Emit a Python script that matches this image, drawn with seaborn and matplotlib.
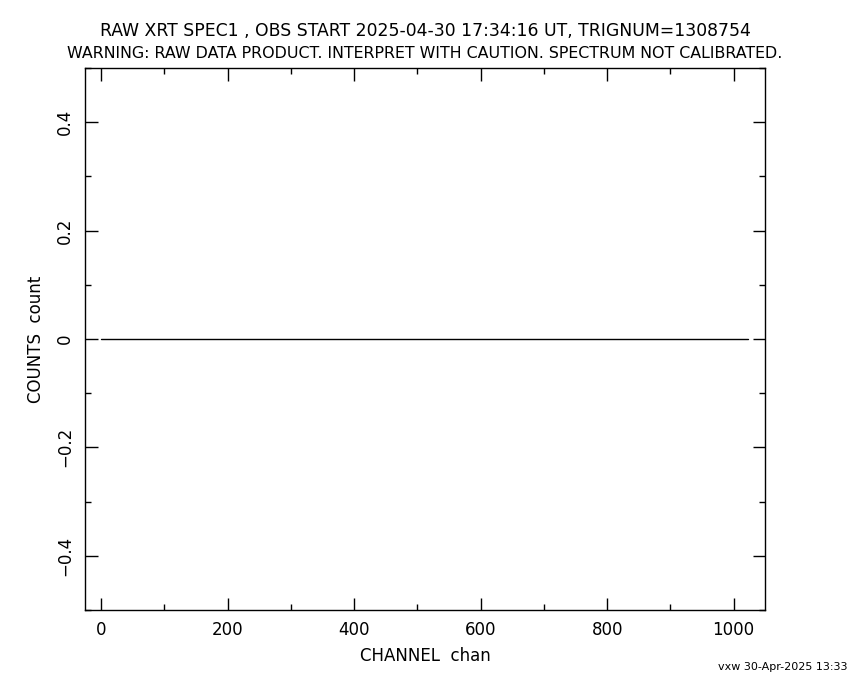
import numpy as np
import pandas as pd
import matplotlib
matplotlib.use("Agg")
import matplotlib.pyplot as plt
import seaborn as sns
from matplotlib.ticker import MultipleLocator

# raw spectrum: 1024 channels, every channel reads zero counts
channels = np.arange(1024)
counts = [0] * 1024

title1 = "RAW XRT SPEC1 , OBS START 2025-04-30 17:34:16 UT, TRIGNUM=1308754"
title2 = "WARNING: RAW DATA PRODUCT. INTERPRET WITH CAUTION. SPECTRUM NOT CALIBRATED."
xlabel = "CHANNEL  chan"
ylabel = "COUNTS  count"
footer = "vxw 30-Apr-2025 13:33"

sns.set_style("ticks")
plt.rcParams['font.family'] = ['DejaVu Sans']
plt.rcParams['text.color'] = 'black'
plt.rcParams['axes.labelcolor'] = 'black'

spec = pd.DataFrame({"chan": channels, "count": counts})

fig = plt.figure(figsize=(8.5, 6.8), dpi=100)
ax = fig.add_axes([0.1, 0.103, 0.8, 0.797])
sns.lineplot(data=spec, x="chan", y="count", ax=ax, color="black",
             linewidth=1.0, estimator=None)

ax.set_xlim(-25.6, 1049.6)
ax.set_ylim(-0.5, 0.5)
ax.xaxis.set_major_locator(MultipleLocator(200))
ax.xaxis.set_minor_locator(MultipleLocator(100))
ax.yaxis.set_major_locator(MultipleLocator(0.2))
ax.yaxis.set_minor_locator(MultipleLocator(0.1))
ax.tick_params(which="both", direction="in", top=True, right=True,
               width=1.0, colors="black", labelsize=12)
ax.tick_params(which="major", length=9)
ax.tick_params(which="minor", length=4.5)
ax.tick_params(axis="x", pad=8)
ax.tick_params(axis="y", pad=8)
for lab in ax.get_yticklabels():
    lab.set_rotation(90)
    lab.set_va("center")
ax.yaxis.set_major_formatter(plt.FuncFormatter(lambda v, p: "0" if abs(v) < 1e-9 else ("%.1f" % v).replace("-", "\u2212")))
for s in ax.spines.values():
    s.set_linewidth(1.0)
    s.set_color("black")

ax.set_xlabel(xlabel, fontsize=12, labelpad=6)
ax.set_ylabel(ylabel, fontsize=12, labelpad=8)

fig.text(0.5, 1 - 31 / 680, title1, ha="center", va="center", fontsize=12.4)
fig.text(0.5, 1 - 53 / 680, title2, ha="center", va="center", fontsize=11.4)
fig.text(0.997, 1 - 667 / 680, footer, ha="right", va="center", fontsize=8)

fig.savefig("out.png", dpi=100, facecolor="white")
